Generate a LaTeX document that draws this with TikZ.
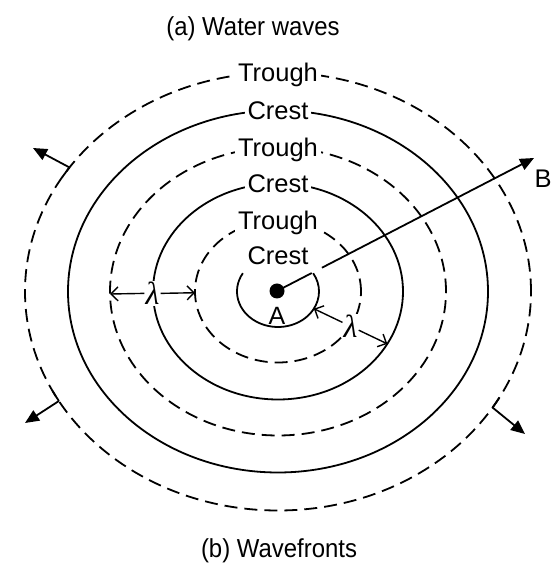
\documentclass[tikz,border=0pt]{standalone}
\usepackage{fontspec}
\setmainfont{Liberation Sans}
\newfontfamily\capfont[FakeStretch=0.92]{Liberation Sans}
\newfontfamily\lamfont{Liberation Serif}
\usetikzlibrary{calc,arrows.meta}
\begin{document}
\begin{tikzpicture}[x=1pt,y=1pt,
  ring/.style={line width=1.8pt},
  dring/.style={line width=1.8pt,dash pattern=on 13pt off 7pt},
  lab/.style={fill=white,inner xsep=3pt,inner ysep=1pt,anchor=base,font=\fontsize{25.5}{25.5}\selectfont},
  caption/.style={anchor=base,font=\capfont\fontsize{26}{26}\selectfont},
  lam/.style={fill=white,inner sep=1pt,font=\lamfont\itshape\fontsize{32}{32}\selectfont},
  lamarrow/.style={line width=1.4pt,-{Straight Barb[length=7pt,width=14pt,line width=1.4pt]}},
  outarrow/.style={line width=1.8pt,-{Triangle[length=14pt,width=12pt]}}
]
\useasboundingbox (0,0) rectangle (557,565);
\fill[white] (0,0) rectangle (557,565);
\coordinate (C) at (278,273.5);
% rings
\draw[dring] (C) ellipse [x radius=253, y radius=219];
\draw[ring]  (C) ellipse [x radius=210, y radius=181];
\draw[dring] (C) ellipse [x radius=168, y radius=144];
\draw[ring]  (C) ellipse [x radius=125, y radius=108];
\draw[dring] (C) ellipse [x radius=83, y radius=71];
\draw[ring] ($(C)+(149:41 and 35.5)$) arc[start angle=149, end angle=391, x radius=41, y radius=35.5];
% top labels
\node[lab] (t6) at ($(C)+(0,219-9)$) {Trough};
\node[lab] (c5) at ($(C)+(0,181-9)$) {Crest};
\node[lab] (t4) at ($(C)+(0,144-9)$) {Trough};
\node[lab] (c3) at ($(C)+(0,108-9)$) {Crest};
\node[lab] (t2) at ($(C)+(0,71-9)$) {Trough};
\node[lab] (c1) at ($(C)+(0,35.5-9)$) {Crest};
% centre point A and ray to B
\node[circle,fill=black,inner sep=0pt,minimum size=15pt] (A) at (277,274) {};
\node[font=\fontsize{25}{25}\selectfont] (Alab) at (277,249) {A};
\coordinate (Bt) at (534,407);
\node[font=\fontsize{25.5}{25.5}\selectfont] (Blab) at (543,386) {B};
\draw[line width=1.8pt] (A.center) -- ($(A.center)!0.135!(Bt)$);
\draw[outarrow] ($(A.center)!0.175!(Bt)$) -- (Bt);
% outward arrows on the outer wavefront
\coordinate (ul) at ($(C)+(145.5:253 and 219)$);
\coordinate (ll) at ($(C)+(210:253 and 219)$);
\coordinate (lr) at ($(C)+(-32:253 and 219)$);
\coordinate (ulT) at (33,417);
\coordinate (llT) at (25,142);
\coordinate (lrT) at (525,131);
\draw[line width=1.8pt] (ul) arc[start angle=145.5, end angle=148.5, x radius=253, y radius=219];
\draw[line width=1.8pt] (ll) arc[start angle=210, end angle=207, x radius=253, y radius=219];
\draw[line width=1.8pt] (lr) arc[start angle=-32, end angle=-29, x radius=253, y radius=219];
\draw[outarrow] (ul) -- (ulT);
\draw[outarrow] (ll) -- (llT);
\draw[outarrow] (lr) -- (lrT);
% wavelength markers
\coordinate (w4) at ($(C)+(181:168 and 144)$);
\coordinate (w2) at ($(C)+(181:83 and 71)$);
\node[lam] (L1) at ($(w4)!0.5!(w2)$) {λ};
\draw[lamarrow] (L1.west) -- (w4);
\draw[lamarrow] (L1.east) -- (w2);
\coordinate (v1) at ($(C)+(-29:41 and 35.5)$);
\coordinate (v3) at ($(C)+(-29:125 and 108)$);
\node[lam] (L2) at ($(v1)!0.5!(v3)$) {λ};
\draw[lamarrow] (L2) -- (v1);
\draw[lamarrow] (L2) -- (v3);
% captions
\node[caption] (cap1) at (253,529) {(a) Water waves};
\node[caption] (cap2) at (279,8) {(b) Wavefronts};
\end{tikzpicture}
\end{document}
